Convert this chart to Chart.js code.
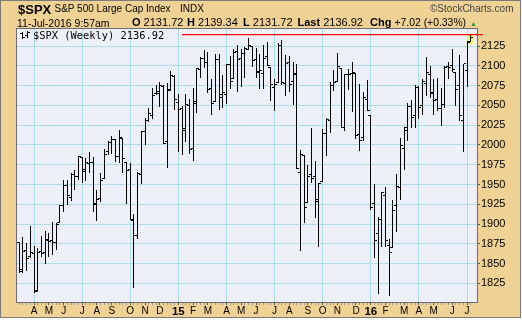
<!DOCTYPE html>
<html>
<head>
<meta charset="utf-8">
<script src="https://cdn.jsdelivr.net/npm/chart.js@4.4.1/dist/chart.umd.min.js"></script>
<style>
  html, body { margin: 0; padding: 0; background: #fff; }
  #frame { position: absolute; left: 0; top: 0; width: 521px; height: 318px; box-sizing: border-box;
           border: 1px solid #7a7a7a; background: #F0D294; }
  #wrap { position: absolute; left: 0; top: 0; width: 522px; height: 320px; }
  .t { position: absolute; white-space: nowrap; font-family: Arial, "Liberation Sans", sans-serif;
       color: #000; line-height: 1; }
  .mono { font-family: "DejaVu Sans Mono", monospace; }
</style>
</head>
<body>
<div id="frame"></div>
<div id="wrap"><canvas id="spxChart" width="522" height="320"></canvas></div>

<div class="t" style="left:18px;top:3px;font-size:13px;font-weight:bold">$SPX</div>
<div class="t" style="left:54.5px;top:4.2px;font-size:10px">S&amp;P 500 Large Cap Index</div>
<div class="t" style="left:180px;top:4.2px;font-size:10px">INDX</div>
<div class="t" style="left:430px;top:4.2px;font-size:10px;color:#444">&copy;StockCharts.com</div>

<div class="t" style="left:17px;top:17.8px;font-size:10.5px">11-Jul-2016 9:57am</div>
<div class="t" style="left:132px;top:17.4px;font-size:11px"><b>O</b> 2131.72</div>
<div class="t" style="left:187px;top:17.4px;font-size:11px"><b>H</b> 2139.34</div>
<div class="t" style="left:243px;top:17.4px;font-size:11px"><b>L</b> 2131.72</div>
<div class="t" style="left:297.5px;top:17.4px;font-size:11px"><b>Last</b> 2136.92</div>
<div class="t" style="left:370px;top:17.4px;font-size:11px"><b>Chg</b> <span style="font-size:10.4px">+7.02 (+0.33%)</span></div>
<div class="t" style="left:470px;top:19.5px;font-size:7px;color:#2e9a3a">&#9650;</div>

<div class="t mono" style="left:33px;top:30.2px;font-size:10.4px">$SPX (Weekly) 2136.92</div>

<script>
// weekly bars, one per week starting Monday 10-Mar-2014
const firstWeek = '2014-03-10';
const monthLetters = ['J', 'F', 'M', 'A', 'M', 'J', 'J', 'A', 'S', 'O', 'N', 'D'];
const priceTicks = [1825, 1850, 1875, 1900, 1925, 1950, 1975, 2000, 2025, 2050, 2075, 2100, 2125];

const open = [
  1877.9, 1842.8, 1867.7, 1859.2, 1863.9, 1816.3, 1865.8, 1865.0, 1879.5, 1880.0, 1876.7, 1902.0, 1923.9, 1948.9,
  1934.8, 1962.9, 1960.8, 1984.2, 1969.9, 1976.9, 1979.0, 1926.6, 1933.4, 1958.4, 1991.7, 2004.1, 2007.2, 1986.0,
  2009.1, 1979.0, 1970.0, 1905.7, 1885.6, 1963.0, 2018.2, 2032.0, 2038.3, 2065.1, 2065.8, 2074.8, 2005.0, 2069.3,
  2087.6,
  2054.4, 2046.1, 2020.8, 2050.4, 1996.7, 2053.5, 2096.5, 2109.8, 2105.2, 2072.3, 2055.4, 2108.0, 2064.1, 2064.9,
  2102.9, 2084.1, 2119.3, 2110.2, 2115.6, 2121.3, 2125.3, 2108.6, 2092.3, 2091.3, 2112.5, 2098.6, 2073.0, 2080.0,
  2126.8, 2078.2, 2104.5, 2081.0, 2089.7, 1965.2, 1986.7, 1927.3, 1963.1, 1960.8, 1929.2, 1954.3, 2015.7, 2031.7,
  2075.1, 2080.8, 2096.6, 2022.1, 2089.4, 2091.0, 2090.4, 2013.4, 2010.3, 2057.8,
  2038.2, 1926.1, 1888.7, 1906.3, 1936.9, 1873.3, 1871.4, 1924.4, 1947.1, 1996.1, 2019.3, 2048.6, 2037.9, 2073.2,
  2050.2, 2078.8, 2089.4, 2067.2, 2057.6, 2046.5, 2052.2, 2100.1, 2100.8, 2091.8, 2075.6, 2031.5, 2095.1, 2131.72
];
const high = [
  1877.9, 1884.0, 1875.9, 1897.3, 1872.5, 1869.6, 1884.9, 1891.3, 1889.1, 1902.2, 1901.3, 1924.0, 1955.6, 1955.6,
  1963.9, 1968.2, 1985.6, 1984.2, 1983.9, 1991.4, 1984.9, 1942.9, 1964.0, 1994.8, 2005.0, 2011.2, 2007.2, 2019.3,
  2009.1, 1979.0, 1977.4, 1912.1, 1965.3, 2018.2, 2034.3, 2046.2, 2071.5, 2075.8, 2079.5, 2075.8, 2077.9, 2093.6,
  2088.4,
  2064.4, 2049.3, 2064.6, 2057.6, 2072.4, 2097.0, 2110.6, 2119.6, 2117.5, 2083.5, 2114.9, 2114.9, 2089.0, 2102.6,
  2111.9, 2120.9, 2125.9, 2121.0, 2123.9, 2134.7, 2125.3, 2121.9, 2115.0, 2126.6, 2130.0, 2098.6, 2083.0, 2128.6,
  2132.8, 2114.2, 2112.7, 2105.4, 2102.9, 1993.5, 1986.7, 1975.0, 2020.9, 1979.6, 1951.8, 2020.1, 2034.5, 2079.7,
  2094.3, 2116.5, 2096.6, 2089.7, 2095.6, 2104.3, 2090.4, 2076.7, 2067.0, 2081.6,
  2038.2, 1950.3, 1908.9, 1940.2, 1947.2, 1881.6, 1930.7, 1963.0, 2009.1, 2022.4, 2052.4, 2056.6, 2075.1, 2074.0,
  2083.1, 2111.1, 2099.9, 2083.4, 2084.9, 2071.9, 2100.2, 2105.3, 2120.6, 2091.8, 2113.3, 2102.7, 2131.7, 2139.34
];
const low = [
  1839.6, 1839.6, 1842.4, 1858.0, 1814.4, 1815.7, 1859.7, 1850.6, 1859.8, 1862.4, 1868.1, 1902.0, 1915.9, 1925.8,
  1930.9, 1944.7, 1956.9, 1952.9, 1955.6, 1965.8, 1916.6, 1904.8, 1928.9, 1958.4, 1989.0, 1990.1, 1980.3, 1978.5,
  1966.0, 1926.0, 1906.1, 1820.7, 1882.3, 1951.4, 2001.0, 2030.2, 2034.5, 2064.8, 2049.6, 2002.3, 1972.6, 2069.3,
  2046.0,
  1992.4, 1988.1, 2004.5, 1989.2, 1980.9, 2041.9, 2085.4, 2098.5, 2066.4, 2039.7, 2055.4, 2045.5, 2048.4, 2053.0,
  2072.4, 2084.1, 2067.9, 2074.2, 2085.7, 2120.6, 2099.2, 2085.7, 2072.1, 2072.5, 2101.4, 2056.6, 2044.0, 2080.0,
  2077.4, 2063.5, 2067.9, 2052.1, 1970.9, 1867.0, 1903.1, 1927.3, 1953.0, 1908.8, 1871.9, 1954.3, 1987.2, 2016.9,
  2069.1, 2080.8, 2022.2, 2019.4, 2070.3, 2042.4, 2008.8, 1993.3, 2005.9, 2043.6,
  1918.5, 1857.8, 1812.3, 1872.7, 1872.7, 1810.1, 1871.4, 1891.0, 1931.8, 1969.3, 2006.0, 2022.5, 2022.3, 2033.8,
  2039.7, 2062.6, 2060.0, 2039.7, 2044.0, 2025.7, 2047.3, 2085.1, 2093.3, 2050.4, 2032.1, 1991.7, 2074.0, 2131.72
];
const close = [
  1841.1, 1866.5, 1857.6, 1865.1, 1815.7, 1864.9, 1863.4, 1881.1, 1878.5, 1877.9, 1900.5, 1923.6, 1949.4, 1936.2,
  1963.0, 1961.0, 1985.4, 1967.6, 1978.2, 1978.3, 1925.2, 1931.6, 1955.1, 1988.4, 2003.4, 2007.7, 1985.5, 2010.4,
  1982.9, 1967.9, 1906.1, 1886.8, 1964.6, 2018.1, 2031.9, 2039.8, 2063.5, 2067.6, 2075.4, 2002.3, 2070.7, 2088.8,
  2058.2,
  2044.8, 2019.4, 2051.8, 1995.0, 2055.5, 2097.0, 2110.3, 2104.5, 2071.3, 2053.4, 2108.1, 2061.0, 2067.0, 2102.1,
  2081.2, 2117.7, 2108.3, 2116.1, 2122.7, 2126.1, 2107.4, 2092.8, 2094.1, 2110.0, 2101.5, 2076.8, 2076.6, 2126.6,
  2079.7, 2103.8, 2077.6, 2091.5, 1970.9, 1988.9, 1921.2, 1961.1, 1958.1, 1931.3, 1951.4, 2014.9, 2033.1, 2075.2,
  2079.4, 2099.2, 2023.0, 2089.2, 2090.1, 2091.7, 2012.4, 2005.6, 2061.0, 2043.9,
  1922.0, 1880.3, 1906.9, 1940.2, 1880.1, 1864.8, 1917.8, 1948.1, 2000.0, 2022.2, 2049.6, 2035.9, 2072.8, 2047.6,
  2080.7, 2091.6, 2065.3, 2057.1, 2046.6, 2052.3, 2099.1, 2099.1, 2096.1, 2071.2, 2037.4, 2103.0, 2129.9, 2136.92
];

// red horizontal line drawn at the latest high
const highLineLevel = 2139.34;
const highLineFrom = '2015-01-12';

const FONT = 'Arial, "Liberation Sans", sans-serif';
const GRID = '#AEDCEA';

const weeks = open.map((_, i) => {
  const d = new Date(firstWeek + 'T00:00:00Z');
  d.setUTCDate(d.getUTCDate() + 7 * i);
  return d.toISOString().slice(0, 10);
});
const monthOf = i => +weeks[i].slice(5, 7) - 1;
const isMonthStart = i => i > 0 && i < weeks.length && monthOf(i) !== monthOf(i - 1);
const isQuarterStart = i => isMonthStart(i) && monthOf(i) % 3 === 0;
const isYearStart = i => isMonthStart(i) && monthOf(i) === 0;

const ohlcPlugin = {
  id: 'ohlc',
  beforeDraw(chart) {
    const { ctx, chartArea: a } = chart;
    ctx.save();
    ctx.fillStyle = '#EEF0F9';
    ctx.fillRect(a.left, a.top, a.right - a.left, a.bottom - a.top);
    ctx.restore();
  },
  beforeDatasetDraw(chart, args) {
    if (args.index !== 0) return;
    // draw the high-low bars crisp, with open tick left and close tick right
    const { ctx } = chart;
    const y = chart.scales.y;
    const bars = args.meta.data;
    const last = bars[bars.length - 1];
    ctx.save();
    ctx.fillStyle = '#FFFF66';
    const hTop = y.getPixelForValue(high[bars.length - 1]) - 1;
    const hBot = y.getPixelForValue(low[bars.length - 1]) + 3.5;
    ctx.fillRect(last.x - 3.3, hTop, 6.7, hBot - hTop);
    ctx.fillStyle = '#000';
    bars.forEach((bar, i) => {
      const px = Math.floor(bar.x);
      const top = Math.round(Math.min(bar.y, bar.base));
      const bot = Math.round(Math.max(bar.y, bar.base));
      ctx.fillRect(px, top, 1, bot - top + 1);
      ctx.fillRect(px - 2, Math.round(y.getPixelForValue(open[i])), 2, 1);
      ctx.fillRect(px + 1, Math.round(y.getPixelForValue(close[i])), 2, 1);
    });
    ctx.restore();
    return false;
  },
  afterDraw(chart) {
    const { ctx, chartArea: a } = chart;
    ctx.save();
    ctx.strokeStyle = '#6c6c78';
    ctx.lineWidth = 1;
    ctx.strokeRect(Math.round(a.left) - 0.5, Math.round(a.top) - 0.5,
      Math.round(a.right - a.left) + 1, Math.round(a.bottom - a.top) + 1);
    // small bar symbol in front of the legend text
    ctx.fillStyle = '#000';
    ctx.fillRect(22, 32, 1, 7);
    ctx.fillRect(20, 33, 2, 1);
    ctx.fillRect(23, 37, 2, 1);
    ctx.fillRect(27, 31, 1, 7);
    ctx.fillRect(25, 35, 2, 1);
    ctx.fillRect(28, 32, 2, 1);
    ctx.restore();
  }
};

new Chart(document.getElementById('spxChart'), {
  type: 'bar',
  data: {
    datasets: [
      {
        type: 'bar',
        data: weeks.map((w, i) => ({ x: i, y: [low[i], high[i]] })),
        backgroundColor: '#000',
        borderWidth: 0,
        barThickness: 1,
        inflateAmount: 0,
        order: 2
      },
      {
        type: 'line',
        data: [
          { x: weeks.indexOf(highLineFrom), y: highLineLevel },
          { x: weeks.length + 2.3, y: highLineLevel }
        ],
        borderColor: '#FF0000',
        borderWidth: 1.2,
        pointRadius: 0,
        clip: false,
        order: 1
      }
    ]
  },
  options: {
    responsive: false,
    animation: false,
    layout: { padding: { left: 17, top: 29, right: 0, bottom: 0 } },
    plugins: { legend: { display: false }, tooltip: { enabled: false } },
    scales: {
      x: {
        type: 'linear',
        min: -0.6,
        max: 123.7,
        offset: false,
        afterBuildTicks: axis => { axis.ticks = weeks.map((w, i) => ({ value: i })); },
        afterFit: s => { s.height = 18; },
        border: { display: false },
        grid: {
          offset: false,
          color: c => (c.tick && isQuarterStart(c.tick.value)) ? GRID : 'rgba(0,0,0,0)',
          tickColor: c => (c.tick && isMonthStart(c.tick.value)) ? '#555' : '#999',
          tickLength: 3
        },
        ticks: {
          autoSkip: false,
          maxRotation: 0,
          padding: 0,
          color: '#000',
          callback: v => {
            if (!isMonthStart(v)) return '';
            return isYearStart(v) ? weeks[v].slice(2, 4) : monthLetters[monthOf(v)];
          },
          font: c => (c.tick && isYearStart(c.tick.value))
            ? { family: FONT, size: 11.5, weight: 'bold' }
            : { family: FONT, size: 10 }
        }
      },
      y: {
        position: 'right',
        min: 1801.5,
        max: 2146.5,
        afterBuildTicks: axis => { axis.ticks = priceTicks.map(v => ({ value: v })); },
        afterFit: s => { s.width = 45; },
        border: { display: false },
        grid: { color: GRID, tickColor: '#555', tickLength: 3 },
        ticks: { padding: 1, color: '#000', font: { family: FONT, size: 11 }, callback: v => String(v) }
      }
    }
  },
  plugins: [ohlcPlugin]
});
</script>
</body>
</html>
